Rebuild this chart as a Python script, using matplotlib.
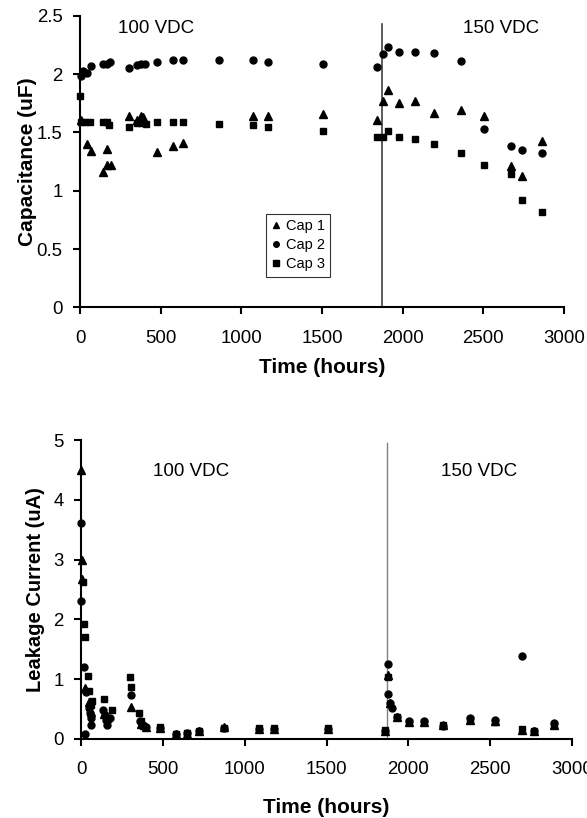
import matplotlib
matplotlib.use('Agg')
import matplotlib.pyplot as plt
import numpy as np

plt.rcParams['font.family'] = ['Liberation Sans', 'DejaVu Sans']

# --- capacitance (top chart) ---
cap1_t = [4, 41, 66, 140, 165, 170, 190, 306, 355, 376, 393, 480, 574, 641, 1075, 1168, 1504,
          1840, 1880, 1911, 1980, 2079, 2197, 2360, 2507, 2670, 2742, 2862]
cap1_c = [1.61, 1.40, 1.34, 1.16, 1.22, 1.36, 1.22, 1.64, 1.61, 1.64, 1.63, 1.33, 1.385, 1.41, 1.64, 1.64, 1.66,
          1.61, 1.765, 1.86, 1.75, 1.765, 1.67, 1.69, 1.64, 1.21, 1.13, 1.43]

cap2_t = [4, 17, 41, 66, 140, 165, 186, 306, 351, 376, 403, 480, 574, 641, 864, 1075, 1168, 1504,
          1843, 1880, 1911, 1980, 2079, 2197, 2360, 2507, 2670, 2742, 2862]
cap2_c = [1.98, 2.03, 2.01, 2.07, 2.09, 2.09, 2.10, 2.05, 2.08, 2.09, 2.09, 2.10, 2.12, 2.12, 2.12, 2.12, 2.10, 2.09,
          2.06, 2.17, 2.23, 2.19, 2.19, 2.18, 2.11, 1.53, 1.385, 1.35, 1.32]

cap3_t = [0, 4, 31, 62, 140, 165, 181, 306, 355, 380, 407, 480, 574, 641, 864, 1075, 1168, 1504,
          1840, 1880, 1911, 1980, 2079, 2197, 2360, 2507, 2670, 2742, 2862]
cap3_c = [1.81, 1.59, 1.59, 1.59, 1.59, 1.59, 1.56, 1.545, 1.58, 1.58, 1.57, 1.585, 1.59, 1.59, 1.57, 1.565, 1.545, 1.51,
          1.46, 1.46, 1.51, 1.465, 1.445, 1.40, 1.32, 1.22, 1.145, 0.92, 0.82]

# --- leakage current (bottom chart) ---
leak1_t = [0, 4, 8, 24, 49, 60, 143, 160, 306, 367, 396, 483, 580, 647, 718, 871, 1085, 1177, 1510,
           1860, 1877, 1890, 1928, 2003, 2095, 2213, 2377, 2528, 2693, 2768, 2887]
leak1_i = [4.5, 2.67, 3.0, 0.85, 0.62, 0.45, 0.42, 0.35, 0.54, 0.25, 0.2, 0.18, 0.08, 0.08, 0.14, 0.2, 0.17, 0.17, 0.17,
           0.14, 1.07, 0.6, 0.36, 0.28, 0.29, 0.23, 0.32, 0.3, 0.15, 0.13, 0.24]

leak2_t = [0, 2, 20, 24, 30, 51, 55, 59, 63, 137, 148, 155, 161, 175, 306, 361, 381, 396, 483, 580, 647, 718,
           871, 1085, 1177, 1510, 1860, 1873, 1877, 1887, 1901, 1928, 2003, 2095, 2213, 2377, 2528, 2693, 2768, 2887]
leak2_i = [3.61, 2.3, 1.2, 0.08, 0.79, 0.51, 0.43, 0.35, 0.24, 0.48, 0.4, 0.31, 0.24, 0.35, 0.73, 0.3, 0.23, 0.2,
           0.18, 0.08, 0.1, 0.13, 0.18, 0.16, 0.16, 0.16, 0.14, 1.25, 0.75, 0.6, 0.51, 0.36, 0.3, 0.3, 0.22, 0.35,
           0.32, 1.39, 0.14, 0.27]

leak3_t = [12, 18, 24, 45, 49, 59, 65, 143, 192, 300, 306, 355, 367, 381, 483, 580, 647, 718, 871, 1085, 1177,
           1510, 1860, 1877, 1928, 2003, 2095, 2213, 2377, 2528, 2693, 2768, 2887]
leak3_i = [2.62, 1.92, 1.70, 1.05, 0.8, 0.56, 0.64, 0.67, 0.48, 1.03, 0.87, 0.43, 0.3, 0.22, 0.2, 0.08, 0.1, 0.14,
           0.18, 0.18, 0.18, 0.18, 0.15, 1.03, 0.36, 0.29, 0.29, 0.23, 0.33, 0.29, 0.16, 0.14, 0.23]

switch_time = 1870

fig = plt.figure(figsize=(5.87, 8.18), dpi=100)
ax1 = fig.add_axes([0.1363, 0.6241, 0.8245, 0.3567])
ax2 = fig.add_axes([0.138, 0.0966, 0.8365, 0.3655])


def style_axes(ax):
    for s in ['top', 'right']:
        ax.spines[s].set_visible(False)
    for s in ['left', 'bottom']:
        ax.spines[s].set_linewidth(1.5)
    ax.tick_params(direction='out', length=5, width=1.5, labelsize=13.4)
    ax.tick_params(axis='x', pad=11)
    ax.tick_params(axis='y', pad=7.5)
    ax.set_xlim(0, 3000)
    ax.set_xticks(np.arange(0, 3001, 500))


# top chart
ax1.plot([switch_time, switch_time], [0, 2.43], color='#404040', lw=1.2)
ax1.plot(cap1_t, cap1_c, '^', color='black', ms=5.5, ls='none', label='Cap 1', clip_on=False)
ax1.plot(cap2_t, cap2_c, 'o', color='black', ms=5, ls='none', label='Cap 2', clip_on=False)
ax1.plot(cap3_t, cap3_c, 's', color='black', ms=4.8, ls='none', label='Cap 3', clip_on=False)
style_axes(ax1)
ax1.set_ylim(0, 2.5)
ax1.set_yticks([0, 0.5, 1, 1.5, 2, 2.5])
ax1.set_yticklabels(['0', '0.5', '1', '1.5', '2', '2.5'])
ax1.set_xlabel('Time (hours)', fontsize=15, fontweight='bold', labelpad=8)
ax1.set_ylabel('Capacitance (uF)', fontsize=15, fontweight='bold', labelpad=0)
ax1.text(236, 2.39, '100 VDC', fontsize=13.5, va='center', ha='left')
ax1.text(2372, 2.39, '150 VDC', fontsize=13.5, va='center', ha='left')
leg = ax1.legend(loc='upper left', bbox_to_anchor=(0.385, 0.32), borderaxespad=0, fontsize=10.5,
                 frameon=True, fancybox=False, handlelength=0.6, handletextpad=0.4,
                 labelspacing=0.35, borderpad=0.35, markerscale=0.8)
leg.get_frame().set_edgecolor('black')
leg.get_frame().set_linewidth(0.8)

# bottom chart
ax2.plot([switch_time, switch_time], [0, 4.95], color='#808080', lw=1.0)
ax2.plot(leak1_t, leak1_i, '^', color='black', ms=5.5, ls='none', clip_on=False)
ax2.plot(leak2_t, leak2_i, 'o', color='black', ms=5, ls='none', clip_on=False)
ax2.plot(leak3_t, leak3_i, 's', color='black', ms=4.8, ls='none', clip_on=False)
style_axes(ax2)
ax2.set_ylim(0, 5)
ax2.set_yticks([0, 1, 2, 3, 4, 5])
ax2.set_xlabel('Time (hours)', fontsize=15, fontweight='bold', labelpad=14)
ax2.set_ylabel('Leakage Current (uA)', fontsize=14.5, fontweight='bold', labelpad=6)
ax2.text(439, 4.48, '100 VDC', fontsize=13.5, va='center', ha='left')
ax2.text(2197, 4.48, '150 VDC', fontsize=13.5, va='center', ha='left')

fig.savefig('out.png', dpi=100)
